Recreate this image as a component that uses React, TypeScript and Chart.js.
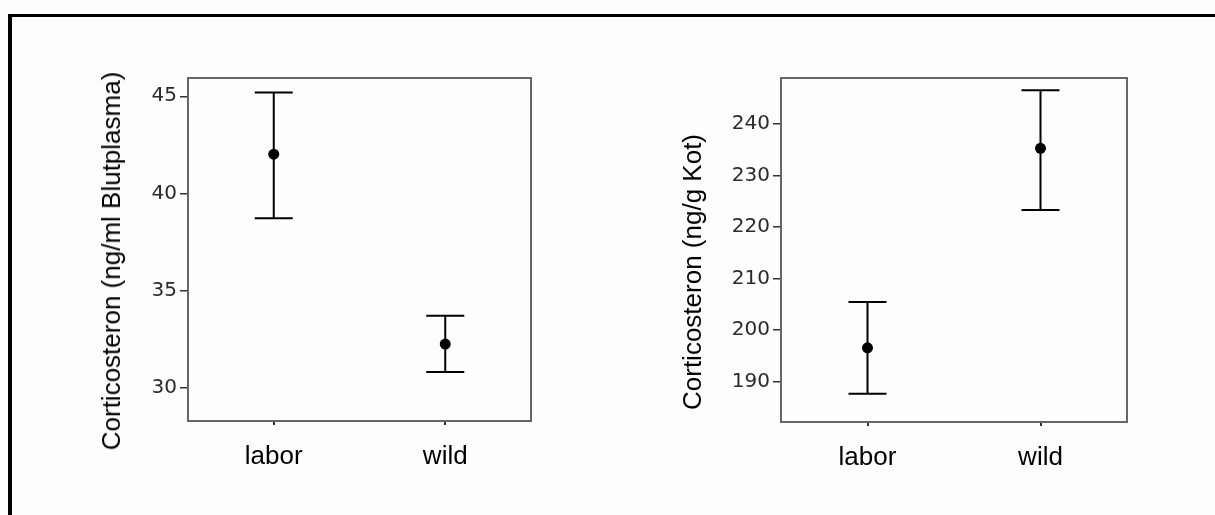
import React, { useEffect, useRef } from "react";
import { Chart, registerables } from "chart.js";

Chart.register(...registerables);

// ---- data ----
const categories = ["labor", "wild"];

const plasmaMeans = [42.02, 32.25];
const plasmaUpper = [45.19, 33.7];
const plasmaLower = [38.72, 30.81];
const plasmaTicks = [30, 35, 40, 45];
const plasmaRange = [28.29, 45.94];
const plasmaTitle = "Corticosteron (ng/ml Blutplasma)";

const fecalMeans = [196.58, 235.3];
const fecalUpper = [205.49, 246.58];
const fecalLower = [187.68, 223.35];
const fecalTicks = [190, 200, 210, 220, 230, 240];
const fecalRange = [182.18, 248.96];
const fecalTitle = "Corticosteron (ng/g Kot)";

const boxPlugin = {
  id: "plotBox",
  beforeDatasetsDraw(chart: any) {
    const { ctx, chartArea } = chart;
    ctx.save();
    ctx.strokeStyle = "#666666";
    ctx.lineWidth = 2;
    ctx.strokeRect(chartArea.left, chartArea.top, chartArea.right - chartArea.left, chartArea.bottom - chartArea.top);
    ctx.restore();
  },
};

const errorBarPlugin = {
  id: "errBars",
  beforeDatasetsDraw(chart: any, _args: any, opts: any) {
    const { ctx } = chart;
    const x = chart.scales.x;
    const y = chart.scales.y;
    const upper: number[] = opts.upper || [];
    const lower: number[] = opts.lower || [];
    const cap = opts.cap || 19;
    ctx.save();
    ctx.strokeStyle = "#000";
    ctx.lineWidth = 2;
    for (let i = 0; i < upper.length; i++) {
      const px = x.getPixelForValue(i);
      const yu = y.getPixelForValue(upper[i]);
      const yl = y.getPixelForValue(lower[i]);
      ctx.beginPath();
      ctx.moveTo(px, yu);
      ctx.lineTo(px, yl);
      ctx.moveTo(px - cap, yu);
      ctx.lineTo(px + cap, yu);
      ctx.moveTo(px - cap, yl);
      ctx.lineTo(px + cap, yl);
      ctx.stroke();
    }
    ctx.restore();
  },
};

type PanelProps = {
  left: number;
  top: number;
  width: number;
  height: number;
  yAxisWidth: number;
  xAxisHeight: number;
  padTop: number;
  padRight: number;
  means: number[];
  upper: number[];
  lower: number[];
  ticks: number[];
  range: number[];
};

function Panel(p: PanelProps) {
  const ref = useRef<HTMLCanvasElement | null>(null);
  useEffect(() => {
    if (!ref.current) return;
    const chart = new Chart(ref.current, {
      type: "line",
      data: {
        labels: categories,
        datasets: [
          {
            data: p.means,
            showLine: false,
            pointRadius: 5.5,
            pointBackgroundColor: "#000",
            pointBorderColor: "#000",
            pointBorderWidth: 0,
          },
        ],
      },
      plugins: [boxPlugin, errorBarPlugin],
      options: {
        animation: false,
        responsive: false,
        maintainAspectRatio: false,
        events: [],
        layout: { padding: { top: p.padTop, right: p.padRight, left: 0, bottom: 0 } },
        plugins: {
          legend: { display: false },
          tooltip: { enabled: false },
          errBars: { upper: p.upper, lower: p.lower, cap: 19 },
        } as any,
        scales: {
          x: {
            type: "category",
            offset: true,
            afterFit: (s: any) => {
              s.height = p.xAxisHeight;
            },
            border: { display: false },
            grid: {
              drawOnChartArea: false,
              drawTicks: true,
              tickLength: 4,
              tickColor: "#333",
              lineWidth: 2,
            },
            ticks: {
              color: "#000",
              font: { family: "'Liberation Sans', Arial, sans-serif", size: 26 },
              padding: 16,
              maxRotation: 0,
            },
          },
          y: {
            type: "linear",
            min: p.range[0],
            max: p.range[1],
            afterFit: (s: any) => {
              s.width = p.yAxisWidth;
            },
            afterBuildTicks: (s: any) => {
              s.ticks = p.ticks.map((v) => ({ value: v }));
            },
            border: { display: false },
            grid: {
              drawOnChartArea: false,
              drawTicks: true,
              tickLength: 8,
              tickColor: "#333",
              lineWidth: 1.5,
            },
            ticks: {
              color: "#2a2a2a",
              font: { family: "'DejaVu Sans', Verdana, sans-serif", size: 20 },
              padding: 3,
            },
          },
        },
      },
    });
    return () => chart.destroy();
  }, []);
  return (
    <canvas
      ref={ref}
      width={p.width}
      height={p.height}
      style={{ position: "absolute", left: p.left, top: p.top, width: p.width, height: p.height }}
    />
  );
}

const titleStyle = (cx: number, cy: number): React.CSSProperties => ({
  position: "absolute",
  left: cx,
  top: cy,
  transform: "translate(-50%, -50%) rotate(-90deg)",
  whiteSpace: "nowrap",
  fontFamily: "'Liberation Sans', Arial, sans-serif",
  fontSize: 26,
  lineHeight: "28px",
  color: "#000",
});

export default function App() {
  return (
    <div
      style={{
        position: "absolute",
        left: 0,
        top: 0,
        width: 1215,
        height: 515,
        background: "#fdfdfd",
        overflow: "hidden",
      }}
    >
      <div
        style={{
          position: "absolute",
          left: 8,
          top: 14,
          width: 1215,
          height: 520,
          borderTop: "3px solid #000",
          borderLeft: "4px solid #000",
        }}
      />
      <Panel
        left={40}
        top={40}
        width={520}
        height={460}
        yAxisWidth={148}
        xAxisHeight={79}
        padTop={38}
        padRight={29}
        means={plasmaMeans}
        upper={plasmaUpper}
        lower={plasmaLower}
        ticks={plasmaTicks}
        range={plasmaRange}
      />
      <Panel
        left={620}
        top={40}
        width={540}
        height={460}
        yAxisWidth={161}
        xAxisHeight={78}
        padTop={38}
        padRight={33}
        means={fecalMeans}
        upper={fecalUpper}
        lower={fecalLower}
        ticks={fecalTicks}
        range={fecalRange}
      />
      <div style={titleStyle(111, 261)}>{plasmaTitle}</div>
      <div style={titleStyle(692, 272)}>{fecalTitle}</div>
    </div>
  );
}
